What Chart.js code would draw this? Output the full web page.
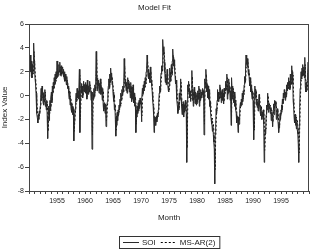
<!DOCTYPE html>
<html>
<head>
<meta charset="utf-8">
<script src="https://cdn.jsdelivr.net/npm/chart.js@4/dist/chart.umd.min.js"></script>
<style>
  html, body { margin: 0; padding: 0; background: #fff; }
  #wrap { position: relative; width: 315px; height: 251px; }
</style>
</head>
<body>
<div id="wrap"><canvas id="c" width="315" height="251"></canvas></div>
<script>
// ── Data (monthly) ───────────────────────────────────
const startYear = 1950;
const xLabelYears = [1955, 1960, 1965, 1970, 1975, 1980, 1985, 1990, 1995];
const yTicks = [-8, -6, -4, -2, 0, 2, 4, 6];

// SOI, one row per year
const soi50s = [
  1.6, 3.1, 2.4, 3.4, 2.0, 2.9, 1.5, 2.6, 1.9, 2.8, 4.4, 2.9,
  2.2, 1.4, 1.0, 0.2, -0.8, -1.5, -1.9, -2.3, -1.6, -2.0, -1.3, -1.5,
  -0.9, -0.2, 0.6, -0.4, 0.8, 0.3, -0.6, 0.2, -0.8, -0.3, 0.5, -0.9,
  -0.5, -1.2, -0.4, -1.8, -3.6, -1.5, -0.9, -2.1, -1.0, -0.4, -1.3, -0.2,
  0.3, -0.6, 0.8, 0.2, 1.1, 0.6, 1.5, 0.9, 1.8, 1.2, 2.0, 1.4,
  2.9, 1.6, 2.4, 1.8, 2.6, 2.0, 2.8, 2.2, 1.7, 2.5, 1.9, 2.3,
  2.4, 1.7, 2.2, 1.5, 2.0, 1.2, 1.8, 1.4, 0.9, 1.6, 1.0, 0.6,
  0.8, 0.2, -0.3, 0.4, -0.8, -0.2, -1.1, -0.6, -1.4, -0.9, -1.6, -1.1,
  -3.8, -2.2, -1.7, -1.2, -0.4, 0.2, -0.5, 0.6, -0.2, 0.4, -0.3, 0.1,
  2.2, -3.1, -0.3, 0.4, 1.0, 0.2, 0.8, -0.2, 0.6, 1.2, 0.3, 0.9
];
const soi60s = [
  0.4, 1.1, 0.2, 0.9, -0.3, 1.3, 0.5, 0.1, 0.8, 0.3, 1.2, 0.6,
  0.7, -0.4, 0.3, -4.5, -0.8, 0.3, -0.3, 0.6, -0.1, 0.9, 0.4, 1.6,
  3.7, 1.2, 0.4, 1.5, 0.8, 1.3, 0.2, 1.0, 0.6, 1.4, 0.1, 0.7,
  0.3, -0.4, 0.6, -0.8, -1.3, -0.6, -1.0, -1.5, -0.7, -2.6, -1.8, -0.9,
  -0.5, 0.3, 0.8, 1.4, 0.6, 1.8, 1.1, 2.3, 1.3, 1.9, 0.9, 1.2,
  0.2, -0.5, 0.3, -1.2, -0.8, -2.0, -3.4, -1.7, -2.5, -1.4, -2.1, -1.2,
  -1.6, -0.8, -1.2, -0.3, -0.9, 0.2, -0.4, 0.5, 0.0, 0.8, 0.3, 1.0,
  3.1, 1.6, 0.8, 1.4, 0.4, 1.0, 0.2, 0.9, 1.5, 0.6, 1.2, 0.3,
  0.8, -0.2, 1.1, 0.4, -0.5, 0.7, -0.3, 0.9, -0.6, 0.2, -0.9, 0.1,
  -0.8, -3.1, -1.2, -1.8, -0.9, -1.5, -0.6, -1.3, -0.4, -1.0, -0.2, -0.7
];
const soi70s = [
  -0.5, -2.2, -0.3, 0.6, 0.1, 0.9, 0.4, 1.2, 0.7, 1.5, 1.0, 2.0,
  2.3, 3.4, 2.8, 1.6, 2.2, 1.4, 1.9, 1.1, 2.4, 1.7, 1.3, 0.8,
  0.3, -0.4, -0.9, -1.6, -3.1, -1.8, -2.4, -1.9, -2.5, -1.7, -2.2, -1.5,
  -1.8, -1.2, -0.6, 0.2, 0.8, 0.3, 1.4, 1.9, 2.5, 2.1, 3.2, 4.7,
  3.6, 4.1, 2.8, 2.0, 1.1, 1.8, 0.9, 1.5, 2.2, 1.3, 0.6, 0.3,
  0.8, 1.6, 2.3, 1.2, 2.0, 2.6, 1.8, 2.9, 3.9, 3.2, 2.5, 3.0,
  2.2, 1.6, 1.0, 1.3, 0.4, -0.3, -0.9, -1.5, -0.6, -1.2, 0.2, -0.4,
  0.6, 1.4, -0.3, -0.9, -1.6, -0.7, -1.2, -0.5, -1.8, -0.8, -1.3, -0.4,
  -0.9, -1.6, -5.6, -0.6, 0.9, 0.3, 1.2, 0.5, -0.2, 0.4, -0.5, 0.2,
  0.3, 2.1, -0.4, 0.5, -0.9, 0.1, 0.7, -0.2, -0.7, 0.3, -0.4, -0.8
];
const soi80s = [
  0.2, -0.6, 0.4, -0.3, 0.8, -0.9, 0.1, -0.4, 0.5, -0.2, 0.3, 0.1,
  0.6, -0.2, 0.4, -3.3, 0.9, 1.4, 0.7, 2.2, 1.1, 0.3, 0.9, -0.2,
  0.8, -0.3, 0.5, -0.9, -0.5, -1.4, -1.9, -2.4, -2.1, -3.0, -2.6, -3.3,
  -3.9, -4.5, -7.4, -3.2, -2.6, -1.1, -1.5, -0.4, 0.5, -0.2, 0.3, -0.5,
  0.3, 0.9, -0.2, 0.4, -0.6, 0.1, 0.5, -0.4, 0.2, -0.7, 0.6, 0.0,
  0.6, 1.2, 0.4, 0.9, 1.8, -0.3, 0.7, 0.2, 1.4, 0.3, 0.8, -0.4,
  0.4, -2.5, 1.5, 0.6, -0.3, 0.8, -0.2, -0.6, 0.3, -0.9, -0.4, -1.2,
  -1.5, -2.3, -1.8, -2.0, -3.1, -1.8, -2.4, -1.6, -1.1, -0.6, -0.9, -0.3,
  -0.8, 0.2, -0.5, 0.4, 0.1, 0.9, 1.6, 1.2, 2.3, 3.4, 2.6, 2.9,
  3.1, 2.4, 1.8, 2.2, 1.3, 0.8, 1.5, 0.3, 0.9, 0.2, -0.3, 0.4
];
const soi90s = [
  -0.5, -0.9, -3.7, 0.2, 0.8, -0.2, 0.5, -0.8, -0.3, -1.0, -0.5, -1.3,
  -0.6, 0.1, -0.8, -1.3, -1.7, -0.9, -1.5, -2.0, -1.4, -1.8, -1.2, -2.4,
  -5.6, -3.9, -2.8, -3.2, -1.6, -0.8, -1.2, 0.2, -0.3, -1.4, -0.6, -1.1,
  -0.9, -1.5, -1.0, -2.1, -1.4, -1.8, -2.6, -1.2, -0.7, -1.6, -0.4, -0.8,
  -0.5, -0.9, -2.0, -1.6, -1.1, -1.9, -2.4, -3.1, -2.7, -2.2, -1.5, -2.0,
  -1.2, -0.8, -1.4, -0.3, -0.7, 0.2, -0.2, 0.5, 0.1, -0.4, 0.3, -0.1,
  0.9, 0.4, 1.1, 0.6, 1.5, 0.8, 1.2, 0.5, 1.8, 0.9, 1.4, 2.5,
  1.0, 2.0, -0.4, -0.9, -1.8, -2.3, -1.6, -2.5, -1.9, -2.8, -2.2, -2.9,
  -3.2, -4.1, -5.6, -2.6, -1.0, 0.6, 1.2, 2.0, 1.4, 2.3, 1.7, 2.6,
  1.8, 2.4, 1.5, 3.2, 0.8, 0.3, 1.1, 0.4, 1.3, 1.9, 2.8, 2.2
];

// MS-AR(2) fitted values, one row per year
const fit50s = [
  1.2, 1.4, 2.6, 2.3, 2.9, 2.0, 2.5, 1.5, 2.2, 1.8, 2.4, 3.7,
  2.8, 2.1, 1.4, 1.0, 0.3, -0.6, -1.2, -1.6, -2.0, -1.5, -1.7, -1.3,
  -1.3, -0.9, -0.3, 0.4, -0.2, 0.5, 0.3, -0.4, 0.1, -0.6, -0.3, 0.3,
  -0.6, -0.5, -1.0, -0.5, -1.4, -3.0, -1.7, -0.9, -1.7, -1.1, -0.5, -1.0,
  -0.3, 0.2, -0.4, 0.5, 0.3, 0.9, 0.6, 1.2, 0.9, 1.5, 1.2, 1.7,
  1.4, 2.4, 1.6, 2.0, 1.7, 2.2, 1.9, 2.4, 2.1, 1.6, 2.1, 1.8,
  2.0, 2.1, 1.6, 1.9, 1.5, 1.7, 1.2, 1.5, 1.3, 0.9, 1.3, 1.0,
  0.6, 0.7, 0.3, -0.2, 0.3, -0.5, -0.3, -0.9, -0.6, -1.1, -0.9, -1.3,
  -1.1, -3.0, -2.2, -1.6, -1.2, -0.5, 0.1, -0.4, 0.4, -0.1, 0.3, -0.2,
  0.0, 1.7, -2.0, -0.7, 0.3, 0.8, 0.3, 0.6, 0.0, 0.4, 1.0, 0.4
];
const fit60s = [
  0.7, 0.4, 0.9, 0.3, 0.7, -0.1, 0.9, 0.6, 0.2, 0.6, 0.3, 0.9,
  0.6, 0.6, -0.2, 0.2, -3.3, -1.3, 0.1, -0.2, 0.4, 0.0, 0.7, 0.4,
  1.3, 3.0, 1.5, 0.5, 1.2, 0.8, 1.1, 0.4, 0.8, 0.6, 1.1, 0.3,
  0.5, 0.3, -0.3, 0.4, -0.5, -1.1, -0.6, -0.8, -1.3, -0.8, -2.1, -1.7,
  -0.9, -0.5, 0.2, 0.6, 1.2, 0.7, 1.4, 1.1, 1.9, 1.3, 1.6, 1.0,
  1.0, 0.3, -0.3, 0.1, -0.9, -0.8, -1.6, -2.9, -1.8, -2.1, -1.4, -1.8,
  -1.2, -1.4, -0.8, -1.0, -0.4, -0.7, 0.0, -0.3, 0.3, 0.1, 0.6, 0.3,
  0.8, 2.5, 1.7, 0.8, 1.2, 0.5, 0.8, 0.3, 0.7, 1.3, 0.7, 1.0,
  0.4, 0.6, 0.0, 0.8, 0.5, -0.3, 0.5, -0.1, 0.6, -0.3, 0.1, -0.6,
  -0.1, -0.6, -2.4, -1.4, -1.5, -1.0, -1.3, -0.7, -1.1, -0.5, -0.8, -0.3
];
const fit70s = [
  -0.6, -0.5, -1.7, -0.6, 0.4, 0.2, 0.7, 0.4, 1.0, 0.7, 1.2, 1.0,
  1.7, 2.0, 2.9, 2.6, 1.6, 1.9, 1.4, 1.6, 1.1, 2.0, 1.6, 1.2,
  0.8, 0.3, -0.3, -0.7, -1.3, -2.6, -1.8, -2.1, -1.8, -2.2, -1.7, -1.9,
  -1.5, -1.6, -1.2, -0.6, 0.1, 0.6, 0.4, 1.1, 1.6, 2.2, 2.0, 2.7,
  4.0, 3.4, 3.6, 2.7, 1.9, 1.1, 1.5, 0.9, 1.3, 1.9, 1.3, 0.6,
  0.3, 0.6, 1.3, 2.0, 1.2, 1.7, 2.2, 1.7, 2.4, 3.4, 3.0, 2.4,
  2.6, 2.1, 1.5, 1.0, 1.1, 0.5, -0.2, -0.7, -1.3, -0.7, -1.0, 0.0,
  -0.3, 0.4, 1.1, 0.0, -0.7, -1.3, -0.8, -1.0, -0.6, -1.4, -0.9, -1.1,
  -0.5, -0.7, -1.3, -4.4, -1.3, 0.6, 0.4, 1.0, 0.6, -0.1, 0.3, -0.3,
  0.1, 0.3, 1.6, 0.0, 0.3, -0.6, -0.1, 0.5, 0.0, -0.6, 0.1, -0.3
];
const fit80s = [
  -0.7, 0.0, -0.4, 0.2, -0.2, 0.6, -0.6, -0.1, -0.3, 0.3, -0.1, 0.2,
  0.1, 0.5, -0.1, 0.3, -2.4, 0.2, 1.2, 0.7, 1.8, 1.2, 0.4, 0.7,
  0.0, 0.6, -0.1, 0.3, -0.6, -0.5, -1.1, -1.6, -2.1, -1.9, -2.6, -2.4,
  -2.9, -3.4, -4.0, -6.2, -3.5, -2.4, -1.2, -1.3, -0.5, 0.3, -0.1, 0.2,
  -0.3, 0.2, 0.7, 0.0, 0.3, -0.4, 0.0, 0.4, -0.2, 0.1, -0.5, 0.3,
  0.1, 0.5, 1.0, 0.5, 0.7, 1.5, 0.0, 0.5, 0.3, 1.1, 0.4, 0.7,
  -0.2, 0.2, -1.8, 0.8, 0.7, -0.1, 0.6, 0.0, -0.5, 0.1, -0.6, -0.4,
  -1.0, -1.3, -2.0, -1.7, -1.8, -2.6, -1.8, -2.1, -1.6, -1.1, -0.6, -0.8,
  -0.4, -0.6, 0.0, -0.3, 0.2, 0.1, 0.7, 1.3, 1.1, 1.9, 2.9, 2.5,
  2.6, 2.8, 2.3, 1.7, 1.9, 1.3, 0.8, 1.3, 0.5, 0.7, 0.3, -0.2
];
const fit90s = [
  0.3, -0.3, -0.8, -2.9, -0.4, 0.6, 0.0, 0.4, -0.5, -0.3, -0.8, -0.5,
  -1.1, -0.6, 0.0, -0.6, -1.1, -1.5, -0.9, -1.3, -1.7, -1.4, -1.6, -1.2,
  -2.0, -4.6, -3.8, -2.7, -2.8, -1.7, -0.8, -1.0, 0.0, -0.2, -1.1, -0.7,
  -0.9, -0.8, -1.3, -1.0, -1.7, -1.4, -1.6, -2.2, -1.3, -0.7, -1.3, -0.5,
  -0.7, -0.5, -0.8, -1.6, -1.5, -1.1, -1.6, -2.1, -2.7, -2.5, -2.1, -1.5,
  -1.7, -1.2, -0.8, -1.2, -0.4, -0.6, 0.0, -0.1, 0.3, 0.2, -0.3, 0.2,
  0.0, 0.7, 0.4, 0.9, 0.6, 1.2, 0.8, 1.0, 0.6, 1.4, 0.9, 1.2,
  2.1, 1.1, 1.7, 0.0, -0.7, -1.5, -2.0, -1.5, -2.1, -1.8, -2.4, -2.1,
  -2.5, -2.8, -3.6, -4.8, -2.8, -1.1, 0.3, 1.0, 1.7, 1.4, 1.9, 1.6,
  2.2, 1.7, 2.1, 1.5, 2.6, 1.1, 0.3, 0.9, 0.5, 1.0, 1.6, 2.4
];

const soi   = [...soi50s, ...soi60s, ...soi70s, ...soi80s, ...soi90s];
const msar  = [...fit50s, ...fit60s, ...fit70s, ...fit80s, ...fit90s];
const toXY  = arr => arr.map((v, i) => ({ x: startYear + i / 12, y: v }));

// ── Helpers / plugins ────────────────────────────────
const FONT = "'Liberation Sans', Arial, sans-serif";
const INK  = "#222";

// box round the plot area (top + right sides too)
const frame = {
    id: "frame",
    afterDraw(chart) {
        const { ctx, chartArea: a } = chart;
        ctx.save();
        ctx.strokeStyle = "#444";
        ctx.lineWidth = 1;
        ctx.strokeRect(Math.round(a.left) + 0.5, Math.round(a.top) + 0.5,
                       Math.round(a.right - a.left) - 1, Math.round(a.bottom - a.top));
        ctx.restore();
    }
};

// boxed legend under the axis title
const boxLegend = {
    id: "boxLegend",
    afterDraw(chart) {
        const { ctx, chartArea: a } = chart;
        const sets = chart.data.datasets;
        ctx.save();
        ctx.font = `8px ${FONT}`;
        ctx.textBaseline = "middle";
        const sample = 16, gap = 3, pad = 4, between = 5;
        let w = pad * 2;
        sets.forEach((ds, i) => {
            w += sample + gap + ctx.measureText(ds.label).width + (i ? between : 0);
        });
        const h = 12, top = 236;
        const left = Math.round((a.left + a.right) / 2 - w / 2);
        ctx.strokeStyle = "#333";
        ctx.lineWidth = 1;
        ctx.strokeRect(left + 0.5, top + 0.5, w, h);
        let x = left + pad;
        const cy = top + h / 2 + 0.5;
        sets.forEach((ds, i) => {
            if (i) x += between;
            ctx.strokeStyle = ds.borderColor;
            ctx.setLineDash(ds.borderDash || []);
            ctx.beginPath();
            ctx.moveTo(x, cy);
            ctx.lineTo(x + sample, cy);
            ctx.stroke();
            ctx.setLineDash([]);
            ctx.fillStyle = INK;
            ctx.fillText(ds.label, x + sample + gap, cy + 0.5);
            x += sample + gap + ctx.measureText(ds.label).width;
        });
        ctx.restore();
    }
};

// ── Chart ────────────────────────────────────────────
new Chart(document.getElementById("c"), {
    type: "line",
    data: {
        datasets: [
            {
                label: "SOI",
                data: toXY(soi),
                borderColor: "#2a2a2a",
                borderWidth: 1,
                pointRadius: 0,
                tension: 0,
            },
            {
                label: "MS-AR(2)",
                data: toXY(msar),
                borderColor: "#000",
                borderWidth: 1,
                borderDash: [2, 2],
                pointRadius: 0,
                tension: 0,
            },
        ],
    },
    options: {
        responsive: false,
        animation: false,
        devicePixelRatio: 1,
        layout: { padding: { left: 0, right: 6, top: 0, bottom: 0 } },
        plugins: {
            legend: { display: false },
            tooltip: { enabled: false },
            title: {
                display: true,
                text: "Model Fit",
                color: INK,
                font: { family: FONT, size: 8, weight: "normal" },
                padding: { top: 3, bottom: 11.4 },
            },
        },
        scales: {
            x: {
                type: "linear",
                min: 1950,
                max: 2000,
                afterFit: s => { s.height = 60; },
                border: { display: false },
                grid: { drawOnChartArea: false, drawTicks: true, tickLength: 3, color: "#444" },
                ticks: {
                    stepSize: 1,
                    autoSkip: false,
                    maxRotation: 0,
                    padding: 3,
                    color: INK,
                    font: { family: FONT, size: 7 },
                    callback: v => xLabelYears.includes(v) ? String(v) : "",
                },
                title: {
                    display: true,
                    text: "Month",
                    color: INK,
                    font: { family: FONT, size: 8 },
                    padding: { top: 0, bottom: 28 },
                },
            },
            y: {
                min: yTicks[0],
                max: yTicks[yTicks.length - 1],
                afterFit: s => { s.width = 29; },
                border: { display: false },
                grid: { drawOnChartArea: false, drawTicks: true, tickLength: 4, color: "#444" },
                ticks: {
                    stepSize: 2,
                    padding: 1,
                    color: INK,
                    font: { family: FONT, size: 7 },
                },
                title: {
                    display: true,
                    text: "Index Value",
                    color: INK,
                    font: { family: FONT, size: 8 },
                    padding: { top: 0, bottom: 0 },
                },
            },
        },
    },
    plugins: [frame, boxLegend],
});
</script>
</body>
</html>
